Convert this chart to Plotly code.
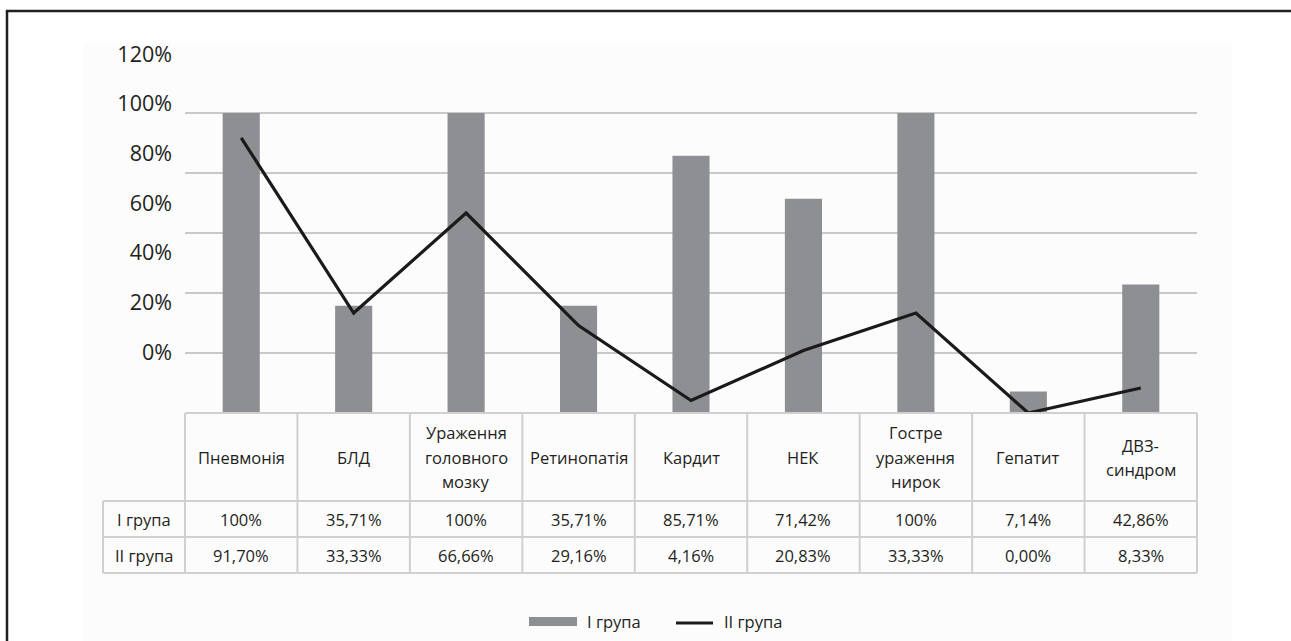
import plotly.graph_objects as go

# ---- data ----
categories = ["Пневмонія", "БЛД", "Ураження<br>головного<br>мозку", "Ретинопатія", "Кардит",
              "НЕК", "Гостре<br>ураження<br>нирок", "Гепатит", "ДВЗ-<br>синдром"]
group1_name = "I група"
group2_name = "II група"
group1_values = [100, 35.71, 100, 35.71, 85.71, 71.42, 100, 7.14, 42.86]
group2_values = [91.70, 33.33, 66.66, 29.16, 4.16, 20.83, 33.33, 0.00, 8.33]
group1_text = ["100%", "35,71%", "100%", "35,71%", "85,71%", "71,42%", "100%", "7,14%", "42,86%"]
group2_text = ["91,70%", "33,33%", "66,66%", "29,16%", "4,16%", "20,83%", "33,33%", "0,00%", "8,33%"]
ytick_vals = [0, 20, 40, 60, 80, 100, 120]
ytick_text = ["0%", "20%", "40%", "60%", "80%", "100%", "120%"]

# ---- layout geometry (pixels) ----
W, H = 1291, 641
L, R, T, B = 185, 1197, 52, 413
FONT = "Open Sans"
TXT = "#231f20"
BAR = "#8e8f92"
GRID = "#c9c9c9"
TBL = "#cfcfcf"
BG = "#fcfcfc"


def px(x):
    return (x - L) / (R - L)


def py(y):
    return (B - y) / (B - T)


fig = go.Figure()
fig.add_trace(go.Bar(x=categories, y=group1_values, name=group1_name, marker_color=BAR,
                     marker_line_width=0, width=0.33, showlegend=False))
fig.add_trace(go.Scatter(x=categories, y=group2_values, name=group2_name, mode="lines",
                         line=dict(color="#1a1a1a", width=3.2), showlegend=False))
# invisible trace that carries the (shifted) tick labels axis
fig.add_trace(go.Scatter(x=[categories[0]], y=[0], yaxis="y2", mode="markers",
                         marker=dict(opacity=0), showlegend=False, hoverinfo="skip"))

shapes = []
annotations = []

# faint background panel and frame
shapes.append(dict(type="rect", xref="paper", yref="paper", x0=px(83), x1=px(1232), y0=py(660), y1=py(43),
                   fillcolor=BG, line_width=0, layer="below"))
shapes.append(dict(type="line", xref="paper", yref="paper", x0=px(7), x1=px(7), y0=py(700), y1=py(10),
                   line=dict(color=TXT, width=2.5)))
shapes.append(dict(type="line", xref="paper", yref="paper", x0=px(6), x1=px(1300), y0=py(11), y1=py(11),
                   line=dict(color=TXT, width=2.5)))

# table grid
col_w = (R - L) / len(categories)
row_y = [413, 501, 537, 573]
for i in range(len(categories) + 1):
    xv = L + col_w * i
    shapes.append(dict(type="line", xref="paper", yref="paper", x0=px(xv), x1=px(xv),
                       y0=py(row_y[0]), y1=py(row_y[-1]), line=dict(color=TBL, width=2)))
shapes.append(dict(type="line", xref="paper", yref="paper", x0=px(103), x1=px(103),
                   y0=py(row_y[1]), y1=py(row_y[-1]), line=dict(color=TBL, width=2)))
shapes.append(dict(type="line", xref="paper", yref="paper", x0=px(L), x1=px(R),
                   y0=py(row_y[0]), y1=py(row_y[0]), line=dict(color=TBL, width=2)))
for yv in row_y[1:]:
    shapes.append(dict(type="line", xref="paper", yref="paper", x0=px(103), x1=px(R),
                       y0=py(yv), y1=py(yv), line=dict(color=TBL, width=2)))

cell_font = dict(family=FONT, size=16.5, color=TXT)
LINE_H = 24
head_mid = (row_y[0] + row_y[1]) / 2
for i, c in enumerate(categories):
    parts = c.split("<br>")
    n = len(parts)
    for k, part in enumerate(parts):
        yline = head_mid + (k - (n - 1) / 2) * LINE_H
        annotations.append(dict(x=c, xref="x", yref="paper", y=py(yline),
                                xanchor="center", yanchor="middle",
                                text=part, showarrow=False, font=cell_font))
    annotations.append(dict(x=c, xref="x", yref="paper", y=py((row_y[1] + row_y[2]) / 2),
                            xanchor="center", yanchor="middle",
                            text=group1_text[i], showarrow=False, font=cell_font))
    annotations.append(dict(x=c, xref="x", yref="paper", y=py((row_y[2] + row_y[3]) / 2),
                            xanchor="center", yanchor="middle",
                            text=group2_text[i], showarrow=False, font=cell_font))
annotations.append(dict(x=px(144), xref="paper", yref="paper", y=py((row_y[1] + row_y[2]) / 2),
                        xanchor="center", yanchor="middle",
                        text=group1_name, showarrow=False, font=cell_font))
annotations.append(dict(x=px(144), xref="paper", yref="paper", y=py((row_y[2] + row_y[3]) / 2),
                        xanchor="center", yanchor="middle",
                        text=group2_name, showarrow=False, font=cell_font))

# custom legend
shapes.append(dict(type="rect", xref="paper", yref="paper", x0=px(529), x1=px(577), y0=py(626), y1=py(617),
                   fillcolor=BAR, line_width=0))
shapes.append(dict(type="line", xref="paper", yref="paper", x0=px(676), x1=px(713), y0=py(623), y1=py(623),
                   line=dict(color="#1a1a1a", width=3)))
annotations.append(dict(x=px(585), xref="paper", yref="paper", y=py(621), xanchor="left", yanchor="middle",
                        text=group1_name, showarrow=False, font=cell_font))
annotations.append(dict(x=px(722), xref="paper", yref="paper", y=py(621), xanchor="left", yanchor="middle",
                        text=group2_name, showarrow=False, font=cell_font))

# y2 range so that labels sit where the reference prints them
lab_top, lab_bot = 54, 352
ppu = (lab_bot - lab_top) / 120.0
y2_lo = -(B - lab_bot) / ppu
y2_hi = 120 + (lab_top - T) / ppu

fig.update_layout(
    width=W, height=H,
    margin=dict(l=L, r=W - R, t=T, b=H - B, pad=0),
    paper_bgcolor="white", plot_bgcolor=BG,
    bargap=0.67,
    xaxis=dict(showticklabels=False, showgrid=False, zeroline=False, showline=False, ticks="",
               range=[-0.5, len(categories) - 0.5]),
    yaxis=dict(range=[0, 120 + (0.33)], tickvals=[20, 40, 60, 80, 100, 120], showticklabels=False,
               showgrid=True, gridcolor=GRID, gridwidth=2, zeroline=False, showline=False, ticks=""),
    yaxis2=dict(overlaying="y", side="left", range=[y2_lo, y2_hi], tickvals=ytick_vals, ticktext=ytick_text,
                showgrid=False, zeroline=False, showline=False, ticks="", ticklabelstandoff=12,
                tickfont=dict(family=FONT, size=21.5, color=TXT)),
    shapes=shapes,
    annotations=annotations,
    font=dict(family=FONT, color=TXT),
)

fig.write_html("out.html", post_script="document.body.style.margin='0';",
               config={"displayModeBar": False})
